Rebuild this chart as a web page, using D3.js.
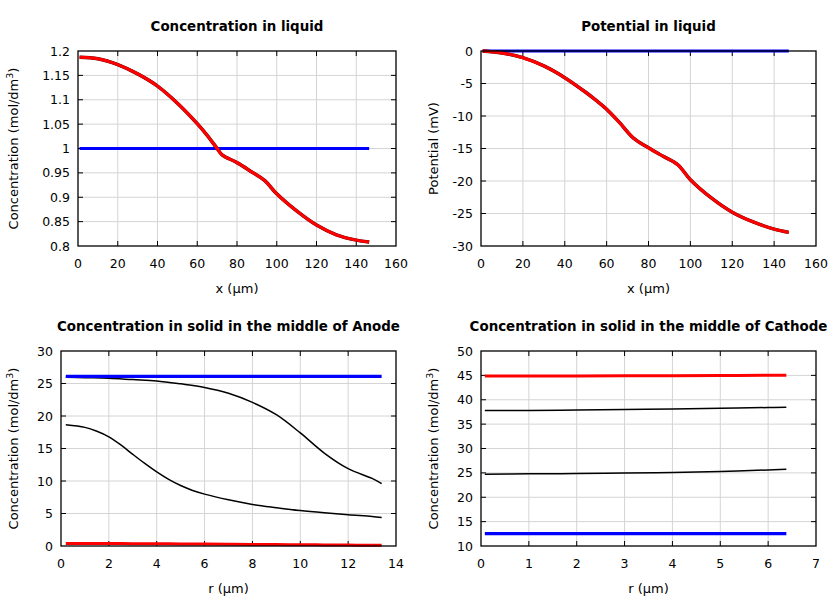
<!DOCTYPE html>
<html><head><meta charset="utf-8">
<script src="https://cdn.jsdelivr.net/npm/d3@7"></script>
<style>body{margin:0;background:#fff}svg{display:block;font-family:"DejaVu Sans",sans-serif}</style>
</head><body><svg id="c" width="840" height="600"></svg>
<script>
// ---- Data ----
// Panel 1: Concentration in liquid
const liqX = [0.8,10,20,30,40,50,60,65,70,72.5,80,87,94,100,110,120,130,140,146.5];
const liqConcFinal = [1.187,1.184,1.172,1.153,1.128,1.093,1.051,1.027,1.0,0.987,0.971,0.953,0.934,0.907,0.872,0.843,0.823,0.812,0.808];
const liqConcInitX = [0.8,146.5];
const liqConcInit = [1.0,1.0];
// Panel 2: Potential in liquid
const potX = [0.8,10,20,30,40,50,55,60,66,73,80,87,94,100,110,120,130,140,147];
const potFinal = [0,-0.3,-1.03,-2.3,-4.1,-6.35,-7.6,-8.95,-10.95,-13.45,-14.9,-16.2,-17.5,-19.8,-22.6,-24.8,-26.3,-27.4,-27.9];
const potInitX = [0.8,147];
const potInit = [0,0];
// Panel 3: Anode solid
const anR = [0.2,1,2,3,4,5,6,7,8,9,10,11,12,13,13.4];
const anInit = [26.1,26.1,26.1,26.1,26.1,26.1,26.1,26.1,26.1,26.1,26.1,26.1,26.1,26.1,26.1];
const anMid1 = [25.98,25.9,25.8,25.6,25.4,24.95,24.4,23.5,22.1,20.2,17.4,14.3,11.9,10.4,9.6];
const anR2 = [0.2,1,1.5,2,2.5,3,3.5,4,4.5,5,5.5,6,7,8,9,10,11,12,13,13.4];
const anMid2 = [18.66,18.25,17.65,16.8,15.55,14.1,12.7,11.4,10.25,9.3,8.55,7.98,7.1,6.4,5.9,5.45,5.1,4.8,4.55,4.4];
const anFinal = [0.4,0.4,0.38,0.36,0.34,0.32,0.3,0.27,0.25,0.22,0.2,0.17,0.14,0.11,0.1];
// Panel 4: Cathode solid
const caR = [0.08,1,2,3,4,5,6,6.38];
const caInit = [12.55,12.55,12.55,12.55,12.55,12.55,12.55,12.55];
const caMid1 = [37.8,37.8,37.9,38.0,38.1,38.25,38.4,38.45];
const caMid2 = [24.7,24.8,24.85,24.95,25.1,25.3,25.6,25.75];
const caFinal = [44.85,44.85,44.87,44.9,44.93,44.97,45.02,45.05];
// Ticks
const xTicks160 = [0,20,40,60,80,100,120,140,160];
const yTicksConc = [0.8,0.85,0.9,0.95,1,1.05,1.1,1.15,1.2];
const yTicksPot = [-30,-25,-20,-15,-10,-5,0];
const xTicksAn = [0,2,4,6,8,10,12,14];
const yTicksAn = [0,5,10,15,20,25,30];
const xTicksCa = [0,1,2,3,4,5,6,7];
const yTicksCa = [10,15,20,25,30,35,40,45,50];

const svg = d3.select("#c");
const fmt = v => String(+v.toFixed(4));

function panel(o){
  const {l,r,t,b} = o;
  const x = d3.scaleLinear().domain(o.xd).range([l,r]);
  const y = d3.scaleLinear().domain(o.yd).range([b,t]);
  const g = svg.append("g");
  // grid
  g.selectAll(".gx").data(o.xt.slice(1,-1)).join("line")
    .attr("x1",d=>x(d)).attr("x2",d=>x(d)).attr("y1",t).attr("y2",b)
    .attr("stroke","#d4d4d4").attr("stroke-width",1);
  g.selectAll(".gy").data(o.yt.slice(1,-1)).join("line")
    .attr("y1",d=>y(d)).attr("y2",d=>y(d)).attr("x1",l).attr("x2",r)
    .attr("stroke","#d4d4d4").attr("stroke-width",1);
  // ticks (inward, mirrored)
  const tk = 5;
  o.xt.slice(1,-1).forEach(d=>{
    g.append("line").attr("x1",x(d)).attr("x2",x(d)).attr("y1",b).attr("y2",b-tk).attr("stroke","#000");
    g.append("line").attr("x1",x(d)).attr("x2",x(d)).attr("y1",t).attr("y2",t+tk).attr("stroke","#000");
  });
  o.yt.slice(1,-1).forEach(d=>{
    g.append("line").attr("y1",y(d)).attr("y2",y(d)).attr("x1",l).attr("x2",l+tk).attr("stroke","#000");
    g.append("line").attr("y1",y(d)).attr("y2",y(d)).attr("x1",r).attr("x2",r-tk).attr("stroke","#000");
  });
  // tick labels
  g.selectAll(".tx").data(o.xt).join("text")
    .attr("x",d=>x(d)).attr("y",b+22).attr("text-anchor","middle")
    .attr("font-size",12.5).text(fmt);
  g.selectAll(".ty").data(o.yt).join("text")
    .attr("x",l-8).attr("y",d=>y(d)+4.5).attr("text-anchor","end")
    .attr("font-size",12.5).text(fmt);
  // series
  const line = d3.line().x(d=>x(d[0])).y(d=>y(d[1])).curve(d3.curveCatmullRom.alpha(0.5));
  o.series.forEach(s=>{
    const pts = s.x.map((v,i)=>[v,s.y[i]]);
    if(s.edge) g.append("path").attr("d",line(pts)).attr("fill","none")
      .attr("stroke","#500").attr("stroke-width",s.w+0.5).attr("stroke-linejoin","round");
    g.append("path").attr("d",line(pts)).attr("fill","none")
      .attr("stroke",s.c).attr("stroke-width",s.w).attr("stroke-linejoin","round");
  });
  // frame
  g.append("rect").attr("x",l).attr("y",t).attr("width",r-l).attr("height",b-t)
    .attr("fill","none").attr("stroke","#000").attr("stroke-width",1.3);
  // title
  g.append("text").attr("x",(l+r)/2).attr("y",t-20).attr("text-anchor","middle")
    .attr("font-size",13.4).attr("font-weight","bold").text(o.title);
  // x label
  g.append("text").attr("x",(l+r)/2).attr("y",b+47).attr("text-anchor","middle")
    .attr("font-size",13).text(o.xl);
  // y label
  const yl = g.append("text").attr("transform",`translate(${o.ylx},${(t+b)/2}) rotate(-90)`)
    .attr("text-anchor","middle").attr("font-size",13);
  if(o.sup){
    yl.append("tspan").text("Concentration (mol/dm");
    yl.append("tspan").attr("font-size",9.5).attr("dy",-5).text("3");
    yl.append("tspan").attr("dy",5).text(")");
  } else yl.text(o.yl);
}

panel({id:1,l:78,r:396,t:51,b:246,xd:[0,160],yd:[0.8,1.2],xt:xTicks160,yt:yTicksConc,
  title:"Concentration in liquid",xl:"x (µm)",sup:true,ylx:18,
  series:[{x:liqConcInitX,y:liqConcInit,c:"#0000ff",w:3},
          {x:liqX,y:liqConcFinal,c:"#ff0000",w:3,edge:true}]});
panel({id:2,l:481,r:816,t:51,b:246,xd:[0,160],yd:[-30,0],xt:xTicks160,yt:yTicksPot,
  title:"Potential in liquid",xl:"x (µm)",yl:"Potential (mV)",ylx:438,
  series:[{x:potInitX,y:potInit,c:"#0000ff",w:3},
          {x:potX,y:potFinal,c:"#ff0000",w:3,edge:true}]});
panel({id:3,l:61,r:396,t:351,b:546,xd:[0,14],yd:[0,30],xt:xTicksAn,yt:yTicksAn,
  title:"Concentration in solid in the middle of Anode",xl:"r (µm)",sup:true,ylx:18,
  series:[{x:anR,y:anMid1,c:"#000",w:1.5},{x:anR2,y:anMid2,c:"#000",w:1.5},
          {x:anR,y:anInit,c:"#0000ff",w:3.2},{x:anR,y:anFinal,c:"#ff0000",w:3}]});
panel({id:4,l:481,r:816,t:351,b:546,xd:[0,7],yd:[10,50],xt:xTicksCa,yt:yTicksCa,
  title:"Concentration in solid in the middle of Cathode",xl:"r (µm)",sup:true,ylx:438,
  series:[{x:caR,y:caMid1,c:"#000",w:1.5},{x:caR,y:caMid2,c:"#000",w:1.5},
          {x:caR,y:caInit,c:"#0000ff",w:3.2},{x:caR,y:caFinal,c:"#ff0000",w:3}]});
</script></body></html>
